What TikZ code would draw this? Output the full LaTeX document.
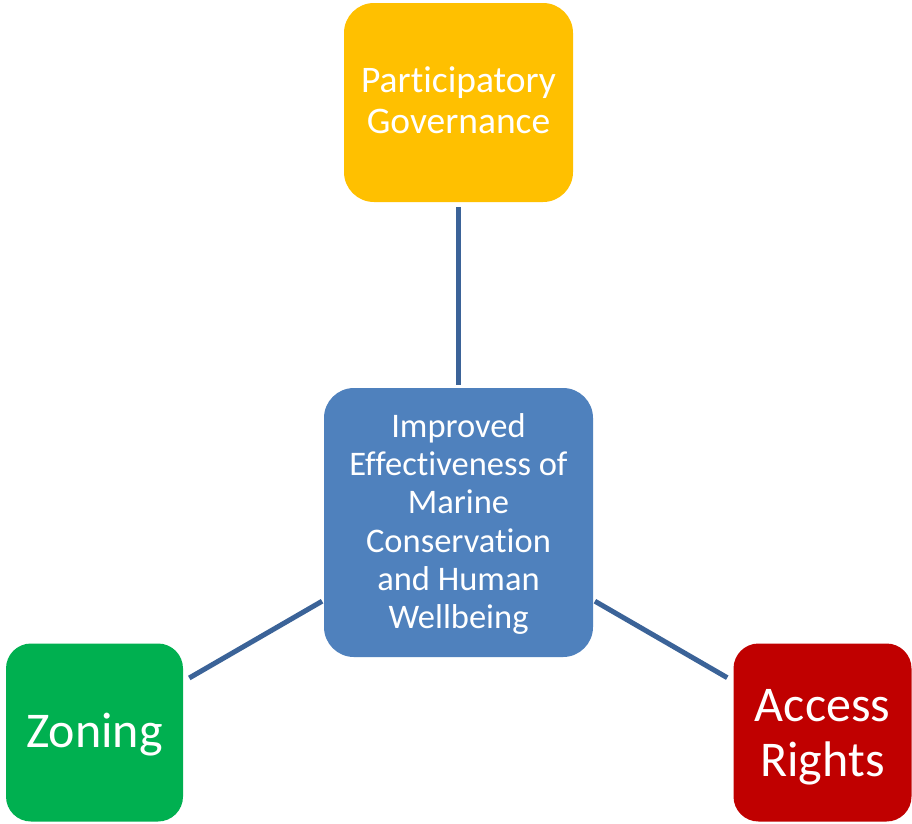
\documentclass[tikz,border=0pt]{standalone}
\usepackage{fontspec}
\setmainfont{Carlito}[Ligatures={NoCommon}]
\definecolor{cyellow}{HTML}{FFC000}
\definecolor{cblue}{HTML}{4F81BD}
\definecolor{cgreen}{HTML}{00B050}
\definecolor{cred}{HTML}{C00000}
\definecolor{cline}{HTML}{3B6398}
\tikzset{
  box/.style={rounded corners=30pt, inner sep=0pt, align=center, text=white},
  conn/.style={draw=cline, line width=5pt}
}
\begin{document}
\begin{tikzpicture}[x=1pt,y=-1pt]
\path[use as bounding box, fill=white] (0,0) rectangle (912,823);
\node[box, fill=cyellow, minimum width=229pt, minimum height=199pt] (gov) at (458.5,102.5) {};
\node[align=center, text=white, inner sep=0pt, font=\fontsize{37.5}{41}\selectfont]
  (govt) at (458.5,100.5) {Participatory\\Governance};
\node[box, fill=cblue, minimum width=269pt, minimum height=269pt] (core) at (458.5,522.5) {};
\node[align=center, text=white, inner sep=0pt, font=\fontsize{34.5}{38.2}\selectfont]
  (coret) at (458.5,524) {Improved\\Effectiveness of\\Marine\\Conservation\\and Human\\Wellbeing};
\node[box, rounded corners=25pt, fill=cgreen, minimum width=177pt, minimum height=178pt] (zon) at (94.5,732.5) {};
\node[text=white, inner sep=0pt, font=\fontsize{50}{55}\selectfont] (zont) at (94.5,735) {Zoning};
\node[box, rounded corners=25pt, fill=cred, minimum width=178pt, minimum height=178pt] (acc) at (822.5,732.5) {};
\node[align=center, text=white, inner sep=0pt, font=\fontsize{50}{55}\selectfont]
  (acct) at (822.5,737) {Access\\Rights};
\draw[conn, shorten <=5pt, shorten >=3pt] (gov) -- (core);
\draw[conn, shorten <=7pt, shorten >=2pt] (zon) -- (core);
\draw[conn, shorten <=7pt, shorten >=2pt] (acc) -- (core);
\end{tikzpicture}
\end{document}
